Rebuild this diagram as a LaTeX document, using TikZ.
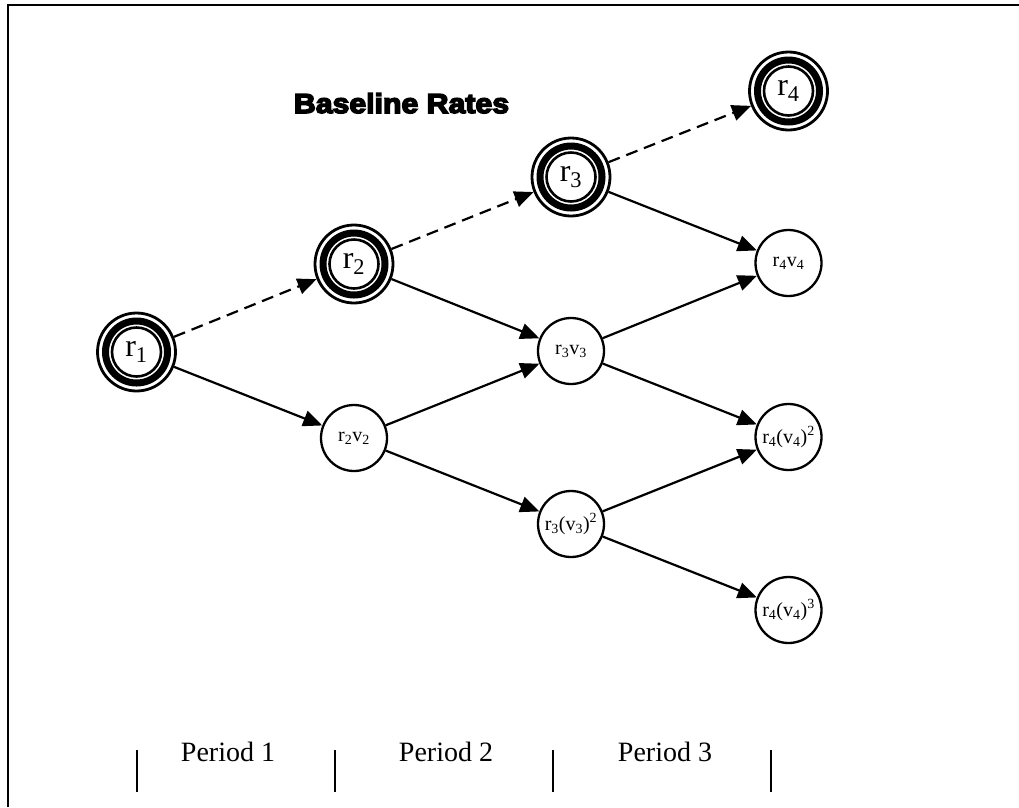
\documentclass[tikz,border=0pt]{standalone}
\usepackage{fontspec}
\setmainfont{Liberation Serif}
\newfontfamily\titlefont{Liberation Sans Bold}[FakeBold=5.5,FakeStretch=1.1]
\usetikzlibrary{arrows.meta}
\begin{document}
\begin{tikzpicture}[x=1pt,y=-1pt,
  big/.style={circle, draw, line width=2.8pt, minimum size=78pt, inner sep=0pt,
    font=\fontsize{32}{34}\selectfont},
  small/.style={circle, draw, line width=2.3pt, minimum size=66pt, inner sep=0pt,
    font=\fontsize{20}{22}\selectfont},
  link/.style={line width=2.2pt, -{Triangle[length=19pt,width=16pt]}},
  baseline link/.style={link, dash pattern=on 12pt off 7pt},
  period/.style={font=\fontsize{28}{30}\selectfont, anchor=base},
  tick/.style={line width=2pt},
  ]
\useasboundingbox (0,0) rectangle (1019,807);

% frame
\draw[line width=2.4pt] (8,807) -- (8,5) -- (1019,5);

% title
\node[anchor=base, font=\titlefont\fontsize{27.5}{29}\selectfont] (title) at (401.5,113) {Baseline Rates};

% baseline rates
\node[big] (r1) at (136.5,352) {r\textsubscript{1}};
\node[big] (r2) at (354,264) {r\textsubscript{2}};
\node[big] (r3) at (571,177) {r\textsubscript{3}};
\node[big] (r4) at (788.5,91) {r\textsubscript{4}};
\foreach \n in {r1,r2,r3,r4} {
  \draw[line width=7pt] (\n.center) circle[radius=31pt];
  \draw[line width=2.6pt] (\n.center) circle[radius=24.5pt];
}

% volatility states
\node[small] (r2v2) at (354,438) {r\textsubscript{2}v\textsubscript{2}};
\node[small] (r3v3) at (571,351) {r\textsubscript{3}v\textsubscript{3}};
\node[small] (r3v3s) at (571,524) {r\textsubscript{3}(v\textsubscript{3})\textsuperscript{2}};
\node[small] (r4v4) at (788.5,263) {r\textsubscript{4}v\textsubscript{4}};
\node[small] (r4v4s) at (788.5,437) {r\textsubscript{4}(v\textsubscript{4})\textsuperscript{2}};
\node[small] (r4v4c) at (788.5,610) {r\textsubscript{4}(v\textsubscript{4})\textsuperscript{3}};

% connectors
\draw[baseline link] (r1) -- (r2);
\draw[baseline link] (r2) -- (r3);
\draw[baseline link] (r3) -- (r4);
\draw[link] (r1) -- (r2v2);
\draw[link] (r2) -- (r3v3);
\draw[link] (r2v2) -- (r3v3);
\draw[link] (r2v2) -- (r3v3s);
\draw[link] (r3) -- (r4v4);
\draw[link] (r3v3) -- (r4v4);
\draw[link] (r3v3) -- (r4v4s);
\draw[link] (r3v3s) -- (r4v4s);
\draw[link] (r3v3s) -- (r4v4c);

% period scale
\foreach \x in {137,335,553,771} \draw[tick] (\x,750) -- (\x,792);
\node[period] (p1) at (228,761) {Period 1};
\node[period] (p2) at (446,761) {Period 2};
\node[period] (p3) at (665,761) {Period 3};
\end{tikzpicture}
\end{document}
